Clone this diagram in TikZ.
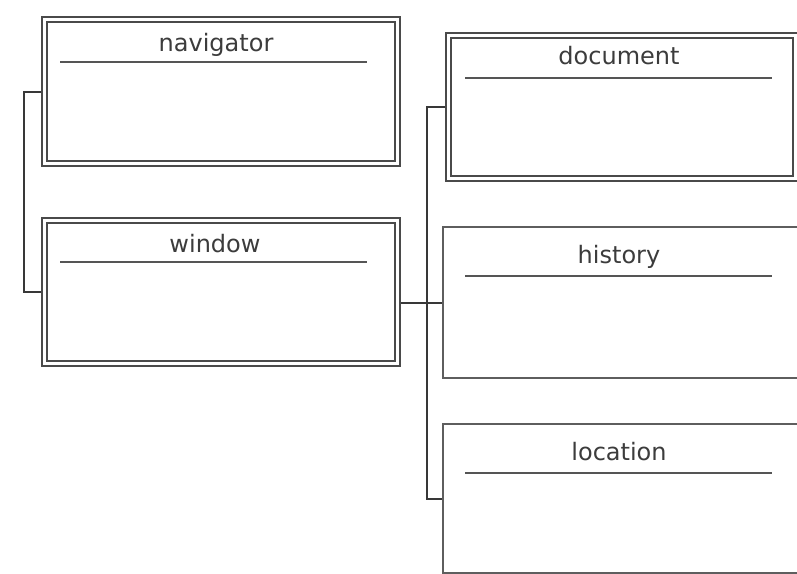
\documentclass[tikz,border=0pt]{standalone}
\usepackage{fontspec}
\newfontfamily\labelfont{DejaVu Sans}
\definecolor{boxline}{HTML}{4A4A4A}
\definecolor{singleline}{HTML}{5E5E5E}
\definecolor{hdrline}{HTML}{555555}
\definecolor{txt}{HTML}{3C3C3C}
\definecolor{connline}{HTML}{383838}
\begin{document}
\begin{tikzpicture}[x=1pt,y=-1pt,
  dbox/.style={draw=boxline, line width=2.2pt, double=white, double distance=3pt,
    anchor=north west, inner sep=0pt, outer sep=3.7pt, fill=white},
  sbox/.style={draw=singleline, line width=2.4pt, anchor=north west, inner sep=0pt,
    outer sep=1.2pt, fill=white},
  hdr/.style={draw=hdrline, line width=2.5pt},
  title/.style={anchor=base, inner sep=0pt, text=txt, font=\labelfont\fontsize{24}{28}\selectfont},
  conn/.style={draw=connline, line width=2pt}]
\useasboundingbox (0,0) rectangle (797,573);
\clip (0,0) rectangle (797,573);
\fill[white] (0,0) rectangle (797,573);
% boxes
\node[dbox, minimum width=353pt, minimum height=144pt] (nav) at (41,16) {};
\node[dbox, minimum width=353pt, minimum height=143pt] (win) at (41,217) {};
\node[dbox, minimum width=347pt, minimum height=143pt] (doc) at (445,32) {};
\node[sbox, minimum width=369pt, minimum height=151pt] (hist) at (442,226) {};
\node[sbox, minimum width=369pt, minimum height=149pt] (loc) at (442,423) {};
% header lines
\draw[hdr] (60,62) -- (367,62);
\draw[hdr] (60,262) -- (367,262);
\draw[hdr] (465,78) -- (772,78);
\draw[hdr] (465,276) -- (772,276);
\draw[hdr] (465,473) -- (772,473);
% titles
\node[title] (navt) at (216,51) {navigator};
\node[title] (wint) at (215,252) {window};
\node[title] (doct) at (619,64) {document};
\node[title] (histt) at (619,263) {history};
\node[title] (loct) at (619,460) {location};
% connectors
\draw[conn] (nav.west) -- ++(-17,0) |- (win.west);
\draw[conn] (win.east |- hist.west) -- (hist.west);
\draw[conn] (doc.west) -- ++(-18,0) |- (loc.west);
\end{tikzpicture}
\end{document}
